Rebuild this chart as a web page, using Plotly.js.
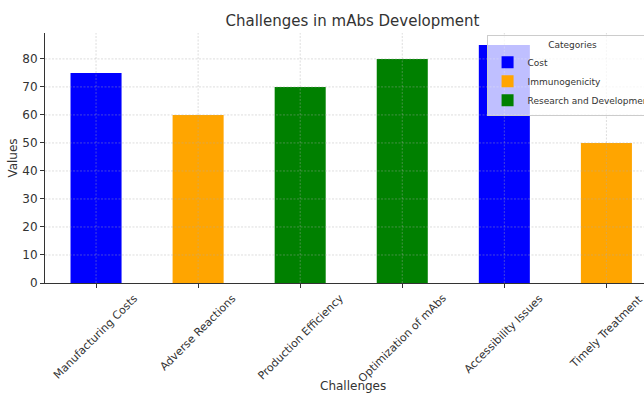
<!DOCTYPE html>
<html><head><meta charset="utf-8">
<script src="https://cdn.plot.ly/plotly-3.0.1.min.js"></script>
<style>html,body{margin:0;padding:0;background:#fff;overflow:hidden}#chart{width:660px;height:393px}</style>
</head><body><div id="chart"></div>
<script>
const challenges = ["Manufacturing Costs","Adverse Reactions","Production Efficiency","Optimization of mAbs","Accessibility Issues","Timely Treatment"];
const values = [75, 60, 70, 80, 85, 50];
const groups = ["Cost","Immunogenicity","Research and Development","Research and Development","Cost","Immunogenicity"];
const categoryNames = ["Cost","Immunogenicity","Research and Development"];
const categoryColors = ["#0000ff","#ffa500","#008000"];
const yTicks = [0, 10, 20, 30, 40, 50, 60, 70, 80];

const traces = categoryNames.map((g, gi) => ({
  type: "bar",
  name: g,
  x: challenges,
  y: challenges.map((c, i) => groups[i] === g ? values[i] : null),
  marker: {color: categoryColors[gi], line: {width: 0}},
  width: 0.5,
  hoverinfo: "x+y"
}));

const gridStyle = {color: "rgba(170,170,170,0.5)", width: 0.8, dash: "2px,1.5px"};
const shapes = [
  ...challenges.map(c => ({type: "line", xref: "x", yref: "paper", x0: c, x1: c, y0: 0, y1: 1, line: gridStyle, layer: "above"})),
  ...yTicks.slice(1).map(v => ({type: "line", xref: "paper", yref: "y", x0: 0, x1: 1, y0: v, y1: v, line: gridStyle, layer: "above"}))
];

const annotations = [
  ...challenges.map(c => ({
    x: c, xref: "x", y: 0, yref: "paper", yshift: -6,
    text: c, textangle: -45, showarrow: false,
    xanchor: "center", yanchor: "top",
    font: {size: 11, color: "#333"}
  })),
  {x: 0.5, xref: "paper", y: 0, yref: "paper", yshift: -103, text: "Challenges", showarrow: false,
   xanchor: "center", yanchor: "middle", font: {size: 12, color: "#333"}}
];

const layout = {
  width: 660, height: 393,
  margin: {l: 45, r: 0, t: 33, b: 110},
  paper_bgcolor: "#fff", plot_bgcolor: "#fff",
  font: {family: "DejaVu Sans", color: "#333", size: 11},
  barmode: "overlay",
  title: {text: "Challenges in mAbs Development", font: {size: 15, color: "#333"}, x: 0.5, xref: "paper", xanchor: "center", y: 0.947, yanchor: "middle"},
  xaxis: {
    type: "category", categoryorder: "array", categoryarray: challenges,
    range: [-0.5, 5.525],
    showticklabels: false,
    ticks: "outside", ticklen: 4, tickcolor: "#333",
    showline: true, linecolor: "#333", linewidth: 1,
    showgrid: false
  },
  yaxis: {
    range: [0, 89.25], tickvals: yTicks,
    ticks: "outside", ticklen: 4, tickcolor: "#333",
    showline: true, linecolor: "#333", linewidth: 1,
    showgrid: false, zeroline: false,
    tickfont: {size: 12, color: "#333"},
    title: {text: "Values", font: {size: 12, color: "#333"}, standoff: 2}
  },
  shapes: shapes,
  annotations: annotations,
  legend: {
    x: 0.718, y: 0.992, xanchor: "left", yanchor: "top",
    bgcolor: "rgba(255,255,255,0.75)", bordercolor: "#ccc", borderwidth: 1,
    font: {size: 9, color: "#333"},
    title: {text: "Categories", side: "top center", font: {size: 9, color: "#333"}},
    itemwidth: 30, tracegroupgap: 0
  },
  showlegend: true
};
Plotly.newPlot("chart", traces, layout, {staticPlot: true, displayModeBar: false});
</script></body></html>
